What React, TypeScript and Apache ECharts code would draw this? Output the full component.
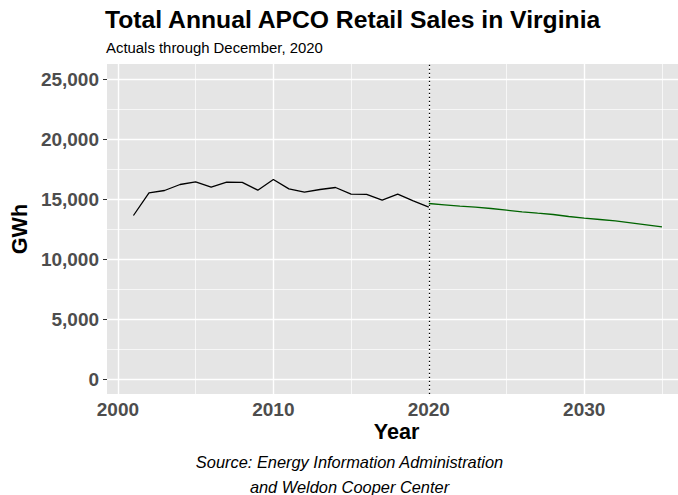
import React, { useEffect, useRef } from "react";
import * as echarts from "echarts";

const actualYears = [2001, 2002, 2003, 2004, 2005, 2006, 2007, 2008, 2009, 2010, 2011, 2012, 2013, 2014, 2015, 2016, 2017, 2018, 2019, 2020];
const actualValues = [13625, 15517, 15708, 16208, 16430, 15986, 16403, 16380, 15736, 16625, 15847, 15569, 15792, 15958, 15403, 15380, 14903, 15400, 14850, 14319];
const forecastYears = [2020, 2021, 2022, 2023, 2024, 2025, 2026, 2027, 2028, 2029, 2030, 2031, 2032, 2033, 2034, 2035];
const forecastValues = [14625, 14514, 14403, 14319, 14208, 14069, 13931, 13819, 13708, 13542, 13403, 13292, 13181, 13014, 12847, 12681];

const xMajorTicks = [2000, 2010, 2020, 2030];
const xMinorTicks = [2005, 2015, 2025, 2035];
const yMajorTicks = [0, 5000, 10000, 15000, 20000, 25000];
const yMinorTicks = [2500, 7500, 12500, 17500, 22500];
const cutoffYear = 2020;

const titleText = "Total Annual APCO Retail Sales in Virginia";
const subtitleText = "Actuals through December, 2020";
const captionLines = ["Source: Energy Information Administration", "and Weldon Cooper Center"];
const xName = "Year";
const yName = "GWh";

const FONT = "'Liberation Sans', Arial, Helvetica, sans-serif";

export default function App() {
  const ref = useRef<HTMLDivElement>(null);
  useEffect(() => {
    if (!ref.current) return;
    const chart = echarts.init(ref.current, undefined, { renderer: "svg" });
    const major = { color: "#FFFFFF", width: 1.4, type: "solid" as const };
    const minor = { color: "#FFFFFF", width: 0.7, type: "solid" as const };
    const gridLines: any[] = [
      ...xMajorTicks.map((v) => ({ xAxis: v, lineStyle: major })),
      ...xMinorTicks.map((v) => ({ xAxis: v, lineStyle: minor })),
      ...yMajorTicks.map((v) => ({ yAxis: v, lineStyle: major })),
      ...yMinorTicks.map((v) => ({ yAxis: v, lineStyle: minor })),
    ];
    chart.setOption({
      animation: false,
      title: [
        {
          text: titleText,
          left: 105,
          top: 6.5,
          padding: 0,
          textStyle: { fontFamily: FONT, fontSize: 24.7, fontWeight: "bold", color: "#000" },
        },
        {
          text: subtitleText,
          left: 106,
          top: 40,
          padding: 0,
          textStyle: { fontFamily: FONT, fontSize: 14.9, fontWeight: "normal", color: "#000" },
        },
      ],
      graphic: [
        {
          type: "text",
          x: 396.5,
          y: 431,
          style: {
            text: xName,
            fill: "#000",
            font: `bold 21.6px ${FONT}`,
            textAlign: "center",
            textVerticalAlign: "middle",
          },
        },
        ...captionLines.map((line, i) => ({
          type: "text",
          x: 349.5,
          y: 462 + i * 24.5,
          style: {
            text: line,
            fill: "#000",
            font: `italic 16.4px ${FONT}`,
            textAlign: "center",
            textVerticalAlign: "middle",
          },
        })),
      ],
      grid: {
        left: 105,
        right: 0,
        top: 64,
        bottom: 101,
        show: true,
        backgroundColor: "#E5E5E5",
        borderWidth: 0,
      },
      xAxis: {
        type: "value",
        min: 1999.3,
        max: 2036.03,
        axisLine: { show: false },
        splitLine: { show: false },
        axisTick: { show: true, length: 4, lineStyle: { color: "#333", width: 1 }, customValues: xMajorTicks },
        axisLabel: {
          customValues: xMajorTicks,
          margin: 6,
          fontFamily: FONT,
          fontSize: 19,
          fontWeight: "bold",
          color: "#4D4D4D",
          formatter: (v: number) => String(v),
        },
      },
      yAxis: {
        type: "value",
        min: -1250,
        max: 26250,
        name: yName,
        nameLocation: "middle",
        nameRotate: 90,
        nameGap: 68,
        nameTextStyle: { fontFamily: FONT, fontSize: 21.6, fontWeight: "bold", color: "#000" },
        axisLine: { show: false },
        splitLine: { show: false },
        axisTick: { show: true, length: 4, lineStyle: { color: "#333", width: 1 }, customValues: yMajorTicks },
        axisLabel: {
          customValues: yMajorTicks,
          margin: 8,
          fontFamily: FONT,
          fontSize: 19,
          fontWeight: "bold",
          color: "#4D4D4D",
          formatter: (v: number) => v.toLocaleString("en-US"),
        },
      },
      series: [
        {
          type: "line",
          name: "grid",
          data: [],
          silent: true,
          z: 1,
          markLine: {
            silent: true,
            z: 1,
            symbol: ["none", "none"],
            label: { show: false },
            emphasis: { disabled: true },
            data: gridLines,
          },
        },
        {
          type: "line",
          name: "Actual",
          data: actualYears.map((y, i) => [y, actualValues[i]]),
          showSymbol: false,
          symbol: "none",
          lineStyle: { color: "#000000", width: 1.3 },
          z: 3,
        },
        {
          type: "line",
          name: "Forecast",
          data: forecastYears.map((y, i) => [y, forecastValues[i]]),
          showSymbol: false,
          symbol: "none",
          lineStyle: { color: "#006400", width: 1.3 },
          z: 3,
        },
        {
          type: "line",
          name: "cutoff",
          data: [],
          silent: true,
          z: 4,
          markLine: {
            silent: true,
            z: 4,
            symbol: ["none", "none"],
            label: { show: false },
            emphasis: { disabled: true },
            data: [{ xAxis: cutoffYear, lineStyle: { color: "#000", width: 1.3, type: [1.3, 2.7] } }],
          },
        },
      ],
    });
    return () => chart.dispose();
  }, []);
  return <div ref={ref} style={{ position: "absolute", left: 0, top: 0, width: 678, height: 495 }} />;
}
